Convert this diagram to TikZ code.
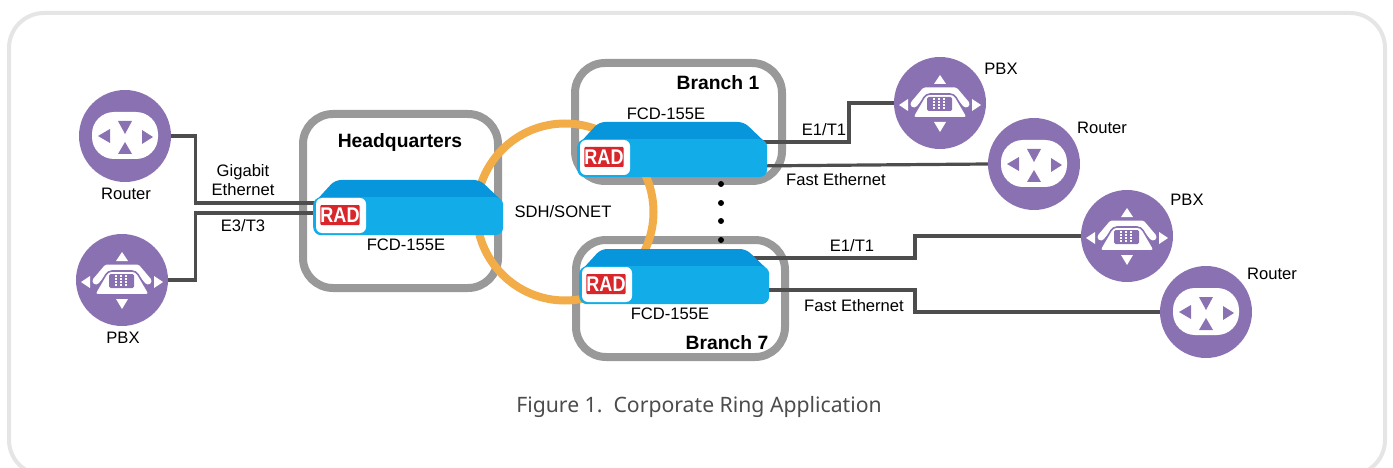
\documentclass[tikz,border=0pt]{standalone}
\usepackage{fontspec}
\setmainfont{Liberation Sans}
\newfontfamily\capfont{Noto Sans}
\usetikzlibrary{positioning,calc}

\definecolor{purp}{HTML}{8A72B2}
\definecolor{bluetop}{HTML}{0796DC}
\definecolor{bluefront}{HTML}{12ADE9}
\definecolor{radred}{HTML}{D8262A}
\definecolor{sitegray}{HTML}{999999}
\definecolor{ringor}{HTML}{F2AC48}
\definecolor{linkgray}{HTML}{4D4D4D}

\tikzset{
  lbl/.style={font=\fontsize{16.6}{18.5}\selectfont,align=center,inner sep=0pt},
  site/.style={draw=sitegray,line width=8pt,rounded corners=30pt},
  sitelbl/.style={font=\bfseries\fontsize{19.3}{21}\selectfont,inner sep=0pt},
  link/.style={draw=linkgray,line width=3.2pt},
  disc/.style={circle,fill=purp,minimum size=92pt,inner sep=0pt},
  dot/.style={circle,fill=black,minimum size=6pt,inner sep=0pt},
  routericon/.pic={
    \fill[white,rounded corners=22pt] (-33,-24) rectangle (33,23);
    \fill[purp] (-7,-15) -- (7,-15) -- (0,-2) -- cycle;
    \fill[purp] (-7,18) -- (7,18) -- (0,6) -- cycle;
    \fill[purp] (-27,0) -- (-15,-7) -- (-15,7) -- cycle;
    \fill[purp] (28,1) -- (17,-6) -- (17,8) -- cycle;
  },
  pbxicon/.pic={
    \fill[white] (-6,-19) -- (6,-19) -- (0,-28) -- cycle;
    \fill[white] (-6,19) -- (6,19) -- (0,29) -- cycle;
    \fill[white] (-32,-4) -- (-32,8) -- (-41,2) -- cycle;
    \fill[white] (32,-4) -- (32,8) -- (41,2) -- cycle;
    \draw[white,line width=7pt,line cap=round,line join=round] (-26,1) -- (-15,-12) -- (15,-12) -- (26,1);
    \filldraw[fill=white,draw=purp,line width=1.6pt,rounded corners=4pt] (-28,15) -- (-14,-9) -- (14,-9) -- (28,15) -- cycle;
    \fill[purp,rounded corners=1.5pt] (-13,-6) rectangle (12,8);
    \foreach \i in {-6,-1,4}
      \foreach \j in {-4,-1,2,5}
        \fill[white] (\i-1,\j-1) rectangle (\i+1,\j+1);
  },
  fcd/.pic={
    \fill[bluetop,rounded corners=6pt] (0,24) -- (22,0) -- (167,0) -- (190,22) -- cycle;
    \node[fill=bluefront,rounded corners=8pt,minimum width=190pt,minimum height=38pt,inner sep=0pt,anchor=north west] (-body) at (0,17) {};
    \fill[white,rounded corners=6pt] (3,18) -- (53,18) -- (53,53) -- (3,53) -- cycle;
    \node[fill=radred,rounded corners=1pt,text=white,font=\bfseries\fontsize{19}{19}\selectfont,minimum width=39pt,minimum height=20pt,inner sep=0pt] (-logo) at (27,35) {\scalebox{.95}[1.12]{RAD}};
  }
}

\begin{document}
\begin{tikzpicture}[x=1pt,y=-1pt]
\useasboundingbox (0,0) rectangle (1393,468);
\clip (0,0) rectangle (1393,468);
\draw[draw=black!10,line width=4pt,rounded corners=35pt] (9,13) rectangle (1385,475);

% sites and ring
\draw[site] (303,114) rectangle (498,288);
\draw[site] (575,63) rectangle (782,181);
\draw[site] (576,240) rectangle (785,357);
\draw[ringor,line width=8pt] (565,212) circle (88.5);

% end stations
\node[disc] (routera) at (125,136) {};
\node[disc] (pbxa) at (122,280) {};
\node[disc] (pbxb) at (940,103) {};
\node[disc] (routerb) at (1034,164) {};
\node[disc] (pbxc) at (1127,236) {};
\node[disc] (routerc) at (1206,312) {};
\pic at (routera) {routericon};
\pic at (routerb) {routericon};
\pic at (routerc) {routericon};
\pic at (pbxa) {pbxicon};
\pic at (pbxb) {pbxicon};
\pic at (pbxc) {pbxicon};

% connectors
\coordinate (hqup) at (330,203);
\coordinate (hqdn) at (330,213);
\coordinate (onea) at (750,142);
\coordinate (oneb) at (750,166);
\coordinate (sevena) at (750,258);
\coordinate (sevenb) at (750,290);
\draw[link] (routera.east) -- ++(24,0) |- (hqup);
\draw[link] (pbxa.east) -- ++(27,0) |- (hqdn);
\draw[link] (onea) -- (849,142) |- (pbxb.west);
\draw[link] (oneb) -- (routerb.west);
\draw[link] (sevena) -- (915,258) |- (pbxc.west);
\draw[link] (sevenb) -- (915,290) |- (routerc.west);

% devices
\pic (hq) at (313,180) {fcd};
\pic (one) at (577,122) {fcd};
\pic (seven) at (579,249) {fcd};

\node[dot] (da) at (721,184) {};
\node[dot] (db) at (721,203) {};
\node[dot] (dc) at (721,221) {};
\node[dot] (dd) at (721,240) {};

% labels
\node[sitelbl] (hqname) at (400,143) {Headquarters};
\node[sitelbl] (onename) at (718,83) {Branch 1};
\node[sitelbl] (sevenname) at (727,343) {Branch 7};
\node[lbl] (hqdev) at (406,245) {FCD-155E};
\node[lbl] (onedev) at (666,114) {FCD-155E};
\node[lbl] (sevendev) at (670,314) {FCD-155E};
\node[lbl] (ring) at (563,212) {SDH/SONET};
\node[lbl] (routeralbl) at (126,194) {Router};
\node[lbl] (pbxalbl) at (123,338) {PBX};
\node[lbl] (pbxblbl) at (1001,69) {PBX};
\node[lbl] (routerblbl) at (1102,128) {Router};
\node[lbl] (pbxclbl) at (1187,200) {PBX};
\node[lbl] (routerclbl) at (1272,274) {Router};
\node[lbl] (gige) at (243,180) {Gigabit\\Ethernet};
\node[lbl] (etre) at (243,226) {E3/T3};
\node[lbl] (eone) at (824,130) {E1/T1};
\node[lbl] (feone) at (836,180) {Fast Ethernet};
\node[lbl] (eseven) at (852,246) {E1/T1};
\node[lbl] (feseven) at (854,306) {Fast Ethernet};
\node[font=\capfont\fontsize{21.2}{23}\selectfont,text=black!70,inner sep=0pt] (cap) at (699,407) {Figure 1.\ \ Corporate Ring Application};
\end{tikzpicture}
\end{document}
